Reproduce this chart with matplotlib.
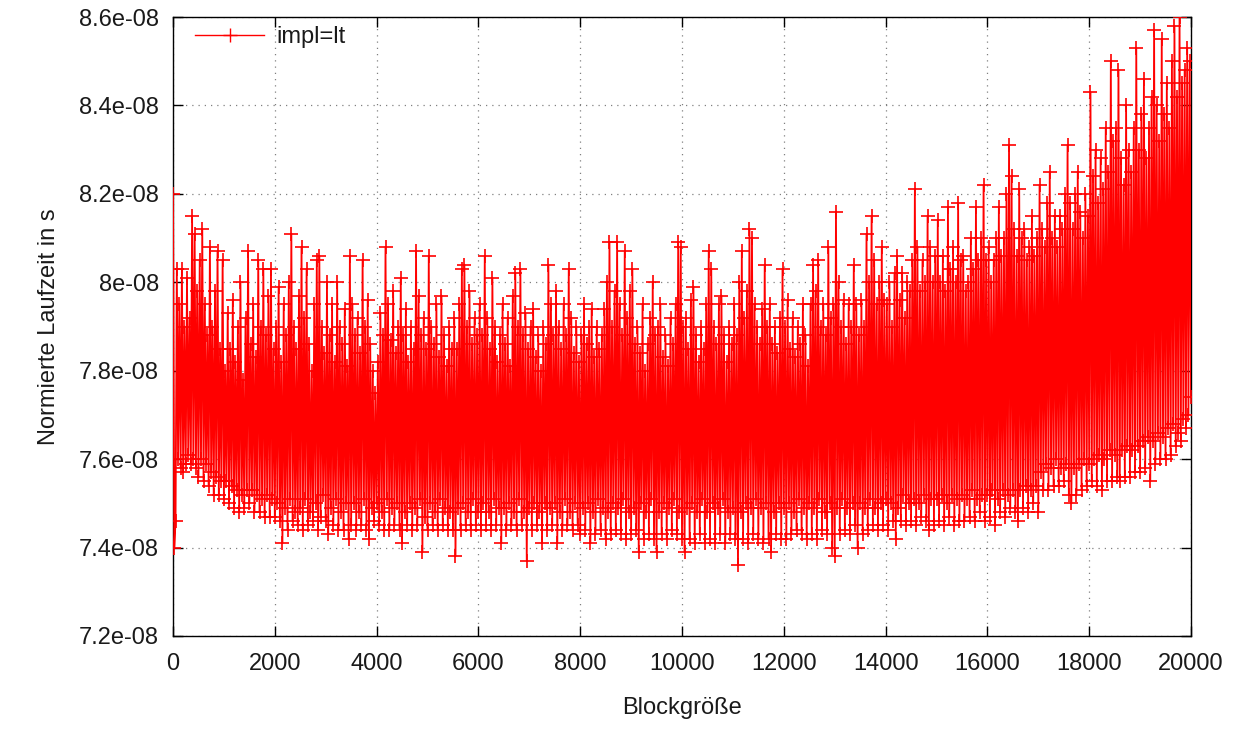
import numpy as np
import matplotlib
matplotlib.use("Agg")
import matplotlib.pyplot as plt
from matplotlib.ticker import FixedLocator, FixedFormatter

# ---- data (runtime in units of 1e-10 s, block sizes 0..20000 in steps of 25) ----
block_step = 25
block_max = 20000
runtime_e10 = [
    # 0 - 475
    820, 740, 746, 803, 760, 795, 758, 803, 757, 790, 759, 801, 761, 792, 759, 815, 760, 811, 758, 798,
    # 500 - 975
    756, 805, 760, 812, 755, 795, 759, 788, 754, 808, 757, 790, 752, 798, 756, 807, 752, 785, 755, 805,
    # 1000 - 1475
    751, 780, 755, 793, 750, 785, 754, 796, 749, 782, 753, 790, 748, 800, 752, 778, 749, 792, 753, 807,
    # 1500 - 1975
    750, 786, 753, 795, 748, 783, 752, 805, 748, 790, 751, 803, 747, 788, 752, 797, 747, 803, 751, 785,
    # 2000 - 2475
    747, 790, 750, 799, 746, 782, 741, 795, 749, 788, 744, 800, 751, 811, 746, 790, 748, 785, 745, 797,
    # 2500 - 2975
    749, 808, 744, 792, 751, 803, 745, 786, 748, 780, 746, 795, 750, 805, 744, 806, 747, 790, 752, 784,
    # 3000 - 3475
    746, 800, 743, 788, 749, 795, 745, 782, 751, 800, 744, 790, 748, 786, 744, 794, 750, 781, 742, 806,
    # 3500 - 3975
    745, 795, 750, 788, 744, 792, 748, 784, 745, 805, 751, 790, 744, 796, 742, 786, 749, 780, 746, 775,
    # 4000 - 4475
    750, 782, 745, 793, 748, 788, 744, 808, 751, 795, 744, 787, 749, 798, 745, 784, 750, 790, 744, 801,
    # 4500 - 4975
    741, 788, 748, 794, 745, 782, 750, 790, 744, 785, 749, 807, 745, 797, 751, 788, 739, 792, 747, 785,
    # 5000 - 5475
    744, 806, 750, 790, 745, 786, 748, 795, 744, 783, 751, 797, 745, 788, 749, 781, 744, 790, 748, 785,
    # 5500 - 5975
    744, 792, 738, 785, 749, 795, 744, 803, 750, 804, 745, 790, 748, 798, 744, 786, 751, 792, 745, 788,
    # 6000 - 6475
    748, 795, 744, 788, 750, 806, 745, 792, 748, 785, 744, 801, 751, 790, 745, 782, 749, 788, 741, 795,
    # 6500 - 6975
    749, 786, 744, 792, 750, 781, 745, 797, 748, 802, 744, 790, 751, 803, 745, 788, 748, 793, 737, 785,
    # 7000 - 7475
    749, 790, 744, 794, 750, 783, 745, 788, 748, 780, 741, 790, 750, 786, 744, 804, 749, 795, 745, 788,
    # 7500 - 7975
    750, 798, 741, 790, 748, 785, 744, 795, 751, 788, 745, 803, 748, 792, 744, 784, 750, 790, 745, 782,
    # 8000 - 8475
    743, 788, 749, 795, 744, 786, 750, 790, 741, 794, 748, 783, 743, 790, 751, 785, 744, 788, 749, 794,
    # 8500 - 8975
    742, 800, 748, 809, 743, 790, 750, 798, 744, 809, 749, 795, 743, 788, 751, 807, 742, 792, 748, 798,
    # 9000 - 9475
    743, 803, 749, 786, 744, 790, 739, 784, 750, 795, 742, 780, 748, 786, 743, 792, 751, 800, 742, 788,
    # 9500 - 9975
    739, 790, 748, 795, 743, 783, 750, 788, 742, 781, 749, 792, 744, 786, 751, 795, 743, 809, 748, 808,
    # 10000 - 10475
    742, 790, 739, 792, 749, 785, 742, 796, 750, 799, 741, 788, 748, 782, 743, 790, 751, 785, 741, 795,
    # 10500 - 10975
    748, 807, 742, 803, 750, 790, 741, 786, 749, 795, 743, 797, 751, 788, 741, 782, 748, 790, 743, 786,
    # 11000 - 11475
    749, 795, 742, 788, 736, 800, 748, 807, 742, 792, 750, 798, 741, 812, 749, 810, 743, 795, 751, 790,
    # 11500 - 11975
    742, 786, 749, 794, 741, 804, 750, 790, 742, 795, 739, 786, 748, 790, 743, 784, 750, 792, 742, 803,
    # 12000 - 12475
    749, 790, 742, 796, 750, 785, 743, 792, 748, 783, 744, 790, 751, 786, 743, 795, 749, 788, 742, 781,
    # 12500 - 12975
    750, 795, 743, 804, 749, 798, 742, 805, 751, 790, 744, 795, 748, 788, 743, 808, 750, 792, 740, 795,
    # 13000 - 13475
    738, 816, 749, 800, 743, 790, 751, 796, 744, 786, 749, 795, 743, 790, 750, 804, 745, 795, 740, 788,
    # 13500 - 13975
    750, 796, 743, 790, 749, 811, 744, 800, 751, 815, 745, 805, 749, 795, 744, 800, 750, 808, 745, 796,
    # 14000 - 14475
    751, 795, 744, 800, 750, 790, 746, 802, 742, 806, 749, 796, 746, 802, 752, 792, 745, 800, 750, 798,
    # 14500 - 14975
    746, 805, 751, 821, 745, 808, 750, 798, 747, 805, 752, 800, 746, 815, 744, 808, 751, 800, 745, 806,
    # 15000 - 15475
    751, 814, 746, 800, 752, 806, 745, 798, 750, 817, 747, 803, 752, 808, 745, 800, 751, 818, 746, 805,
    # 15500 - 15975
    752, 806, 746, 798, 751, 800, 747, 810, 753, 803, 746, 817, 751, 805, 748, 810, 752, 822, 746, 805,
    # 16000 - 16475
    752, 808, 747, 800, 753, 805, 745, 810, 751, 817, 748, 806, 753, 810, 747, 820, 752, 831, 749, 824,
    # 16500 - 16975
    753, 812, 748, 806, 746, 821, 753, 810, 749, 812, 754, 805, 748, 808, 753, 815, 750, 806, 754, 810,
    # 17000 - 17475
    748, 822, 757, 812, 753, 808, 759, 818, 753, 825, 758, 810, 754, 815, 760, 808, 754, 815, 758, 812,
    # 17500 - 17975
    755, 820, 759, 831, 752, 818, 750, 812, 758, 820, 752, 825, 759, 816, 753, 810, 760, 820, 754, 815,
    # 18000 - 18475
    759, 843, 755, 824, 760, 830, 754, 818, 761, 828, 753, 821, 760, 835, 755, 825, 762, 850, 755, 832,
    # 18500 - 18975
    761, 835, 756, 848, 755, 828, 762, 822, 756, 840, 763, 830, 756, 825, 762, 835, 757, 853, 763, 830,
    # 19000 - 19475
    757, 838, 764, 846, 758, 828, 765, 835, 755, 842, 764, 857, 759, 840, 766, 832, 760, 855, 765, 838,
    # 19500 - 19975
    760, 845, 767, 835, 761, 850, 768, 858, 763, 842, 766, 860, 764, 845, 769, 848, 767, 853, 770, 850,
    # 20000
    774,
]
value_scale = 1e-10

series_label = "impl=lt"
x_label = "Blockgröße"
y_label = "Normierte Laufzeit in s"
x_ticks = [0, 2000, 4000, 6000, 8000, 10000, 12000, 14000, 16000, 18000, 20000]
x_tick_labels = ["0", "2000", "4000", "6000", "8000", "10000", "12000", "14000", "16000", "18000", "20000"]
y_ticks = [7.2e-08, 7.4e-08, 7.6e-08, 7.8e-08, 8.0e-08, 8.2e-08, 8.4e-08, 8.6e-08]
y_tick_labels = ["7.2e-08", "7.4e-08", "7.6e-08", "7.8e-08", "8e-08", "8.2e-08", "8.4e-08", "8.6e-08"]

x = np.arange(0, block_max + 1, block_step)
y = np.array(runtime_e10, dtype=float) * value_scale
assert len(x) == len(y), (len(x), len(y))

# ---- figure ----
plt.rcParams['font.family'] = ['Liberation Sans', 'DejaVu Sans']
W, H = 1239, 731
fig = plt.figure(figsize=(W / 100, H / 100), dpi=100)
ax = fig.add_axes([173 / W, 1 - 636 / H, 1018 / W, 619 / H])

ax.plot(x, y, color='#ff0000', lw=1.3, marker='+', ms=9.5, mew=1.2,
        label=series_label, zorder=3)

ax.set_xlim(0, 20000)
ax.set_ylim(7.2e-08, 8.6e-08)
ax.xaxis.set_major_locator(FixedLocator(x_ticks))
ax.xaxis.set_major_formatter(FixedFormatter(x_tick_labels))
ax.yaxis.set_major_locator(FixedLocator(y_ticks))
ax.yaxis.set_major_formatter(FixedFormatter(y_tick_labels))

ax.grid(True, color='#808080', linestyle=(0, (1, 4)), linewidth=0.9, zorder=0)
ax.set_axisbelow(True)
ax.tick_params(direction='in', length=7, width=1, top=True, right=True,
               labelsize=17, colors='black', labelcolor='#1a1a1a')
ax.tick_params(axis='x', pad=12)
ax.tick_params(axis='y', pad=10)
for s in ax.spines.values():
    s.set_linewidth(1.0)
    s.set_color('black')

ax.set_xlabel(x_label, fontsize=17, color='#1a1a1a', labelpad=16)
ax.set_ylabel(y_label, fontsize=17, color='#1a1a1a', labelpad=14)

leg = ax.legend(loc='upper left', bbox_to_anchor=(0.022, 0.985), frameon=False,
                fontsize=17, handlelength=2.9, handletextpad=0.55,
                borderaxespad=0, borderpad=0)
for t in leg.get_texts():
    t.set_color('#1a1a1a')
for h in leg.legend_handles:
    h.set_linewidth(1.0)
    h.set_markeredgewidth(1.0)

fig.savefig('out.png', dpi=100)
